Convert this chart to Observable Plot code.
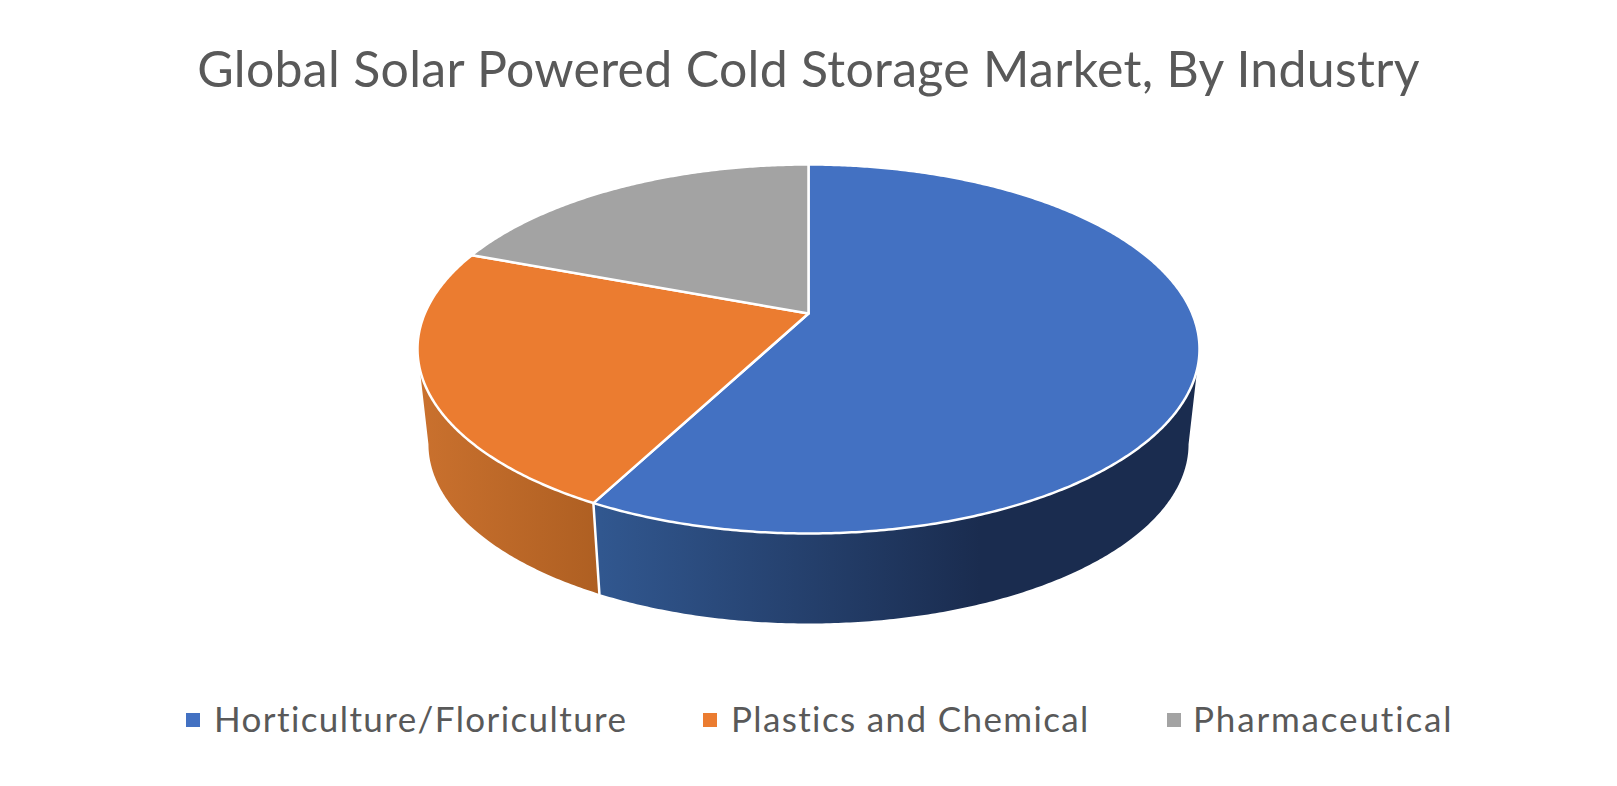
<!DOCTYPE html>
<html>
<head>
<meta charset="utf-8">
<script src="https://cdn.jsdelivr.net/npm/d3@7"></script>
<script src="https://cdn.jsdelivr.net/npm/@observablehq/plot@0.6"></script>
<style>
  html, body { margin: 0; padding: 0; background: #fff; overflow: hidden; }
  #page { position: relative; width: 1617px; height: 786px; font-family: Lato, sans-serif; color: #595959; }
  #title { position: absolute; left: 0; top: 33px; width: 1617px; height: 70px; line-height: 70px; font-size: 50px; text-align: center; white-space: nowrap; letter-spacing: 0.3px; }
  #chart { position: absolute; left: 0; top: 130px; }
  .sw { position: absolute; top: 713px; width: 14px; height: 14px; }
  .lb { position: absolute; top: 694px; height: 48px; line-height: 48px; font-size: 35px; white-space: nowrap; }
</style>
</head>
<body>
<div id="page">
  <div id="title"></div>
  <div id="chart"></div>
</div>
<script>
const chartTitle = "Global Solar Powered Cold Storage Market, By Industry";
const industries = ["Horticulture/Floriculture", "Plastics and Chemical", "Pharmaceutical"];
const shares = [57.7, 23.0, 19.3];
const topColors = ["#4371C2", "#EB7C30", "#A3A3A3"];
const swatchLeft = [186, 703, 1167];
const labelLeft = [214, 731, 1193];
const labelSpacing = [1.4, 1.37, 1.85];

// Perspective view of the pie
const view = { cx: 808, apexY: 313, topY: 164, bottomY: 533, rx: 391, depth: 90, shrink: 0.972 };
const persp = (2 * view.apexY - view.topY - view.bottomY) / (view.topY - view.bottomY);
const a = view.topY * (1 + persp) - view.apexY;
const k = view.rx * Math.sqrt(1 - persp * persp);

function project(deg) {
  const t = deg * Math.PI / 180, u = Math.sin(t), v = Math.cos(t), w = 1 + persp * v;
  return { x: view.cx + k * u / w, y: (a * v + view.apexY) / w };
}
function projectBase(deg) {
  const p = project(deg);
  return {
    x: view.cx + view.shrink * (p.x - view.cx),
    y: view.bottomY + view.depth + view.shrink * (p.y - view.bottomY)
  };
}
function arc(from, to, fn) {
  const n = Math.max(2, Math.ceil(Math.abs(to - from) / 0.5));
  return d3.range(n + 1).map(i => fn(from + (to - from) * i / n));
}

const total = d3.sum(shares);
let run = 0;
const slices = shares.map((s, i) => {
  const start = run / total * 360;
  run += s;
  return { name: industries[i], color: topColors[i], start, end: run / total * 360 };
});

// Outer angles where the rim silhouette turns: the wall is only seen between them
const rimRight = Math.acos(-persp) * 180 / Math.PI;
const rimLeft = 360 - rimRight;

const topFaces = slices.map(s => [{ x: view.cx, y: view.apexY }, ...arc(s.start, s.end, project)]);
const wall = s => {
  const from = Math.max(s.start, rimRight), to = Math.min(s.end, rimLeft);
  return from < to ? [...arc(from, to, project), ...arc(to, from, projectBase)] : null;
};
const walls = slices.map(wall);
const seams = slices.filter(s => s.end > rimRight && s.end < rimLeft).map(s => [project(s.end), projectBase(s.end)]);

const wallGradients = [
  { id: "wall0", from: 600, to: 980, stops: ["#31578F", "#1A2C4F"] },
  { id: "wall1", from: 417, to: 600, stops: ["#CA712E", "#AE5F22"] }
];

function gradientDefs(index, { x }) {
  const svgNS = "http://www.w3.org/2000/svg";
  const defs = document.createElementNS(svgNS, "defs");
  wallGradients.forEach(g => {
    const lg = document.createElementNS(svgNS, "linearGradient");
    lg.setAttribute("id", g.id);
    lg.setAttribute("gradientUnits", "userSpaceOnUse");
    lg.setAttribute("x1", x(g.from)); lg.setAttribute("x2", x(g.to));
    lg.setAttribute("y1", 0); lg.setAttribute("y2", 0);
    g.stops.forEach((col, i) => {
      const st = document.createElementNS(svgNS, "stop");
      st.setAttribute("offset", i);
      st.setAttribute("stop-color", col);
      lg.appendChild(st);
    });
    defs.appendChild(lg);
  });
  return defs;
}

const marks = [gradientDefs];
walls.forEach((pts, i) => {
  if (pts) marks.push(Plot.line(pts, { x: "x", y: "y", curve: "linear-closed", fill: `url(#wall${i})`, stroke: "none" }));
});
seams.forEach(pts => {
  marks.push(Plot.line(pts, { x: "x", y: "y", stroke: "white", strokeWidth: 2.5 }));
});
topFaces.forEach((pts, i) => {
  marks.push(Plot.line(pts, { x: "x", y: "y", curve: "linear-closed", fill: topColors[i], stroke: "white", strokeWidth: 2.5, strokeLinejoin: "round" }));
});

const svg = Plot.plot({
  width: 1617,
  height: 540,
  margin: 0,
  x: { domain: [0, 1617], range: [0, 1617], axis: null },
  y: { domain: [130, 670], range: [0, 540], axis: null },
  marks
});
document.getElementById("chart").appendChild(svg);

document.getElementById("title").textContent = chartTitle;
const page = document.getElementById("page");
industries.forEach((name, i) => {
  const sw = document.createElement("div");
  sw.className = "sw";
  sw.style.left = swatchLeft[i] + "px";
  sw.style.background = topColors[i];
  page.appendChild(sw);
  const lb = document.createElement("div");
  lb.className = "lb";
  lb.style.left = labelLeft[i] + "px";
  lb.style.letterSpacing = labelSpacing[i] + "px";
  lb.textContent = name;
  page.appendChild(lb);
});
</script>
</body>
</html>
